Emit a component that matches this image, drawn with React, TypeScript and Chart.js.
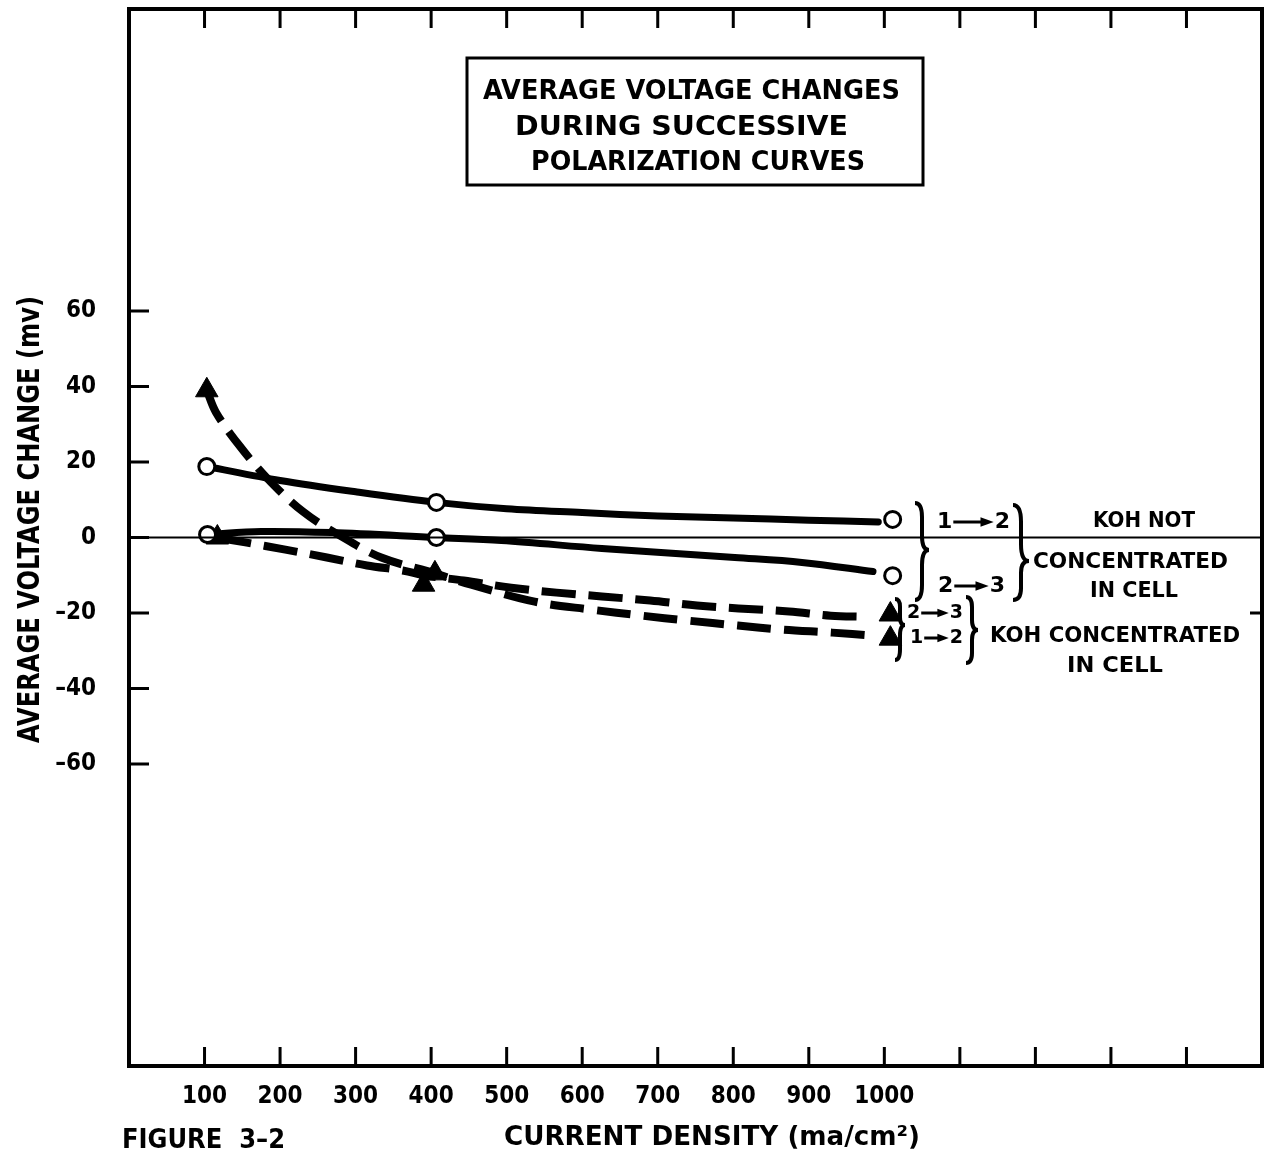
import { useEffect, useRef } from 'react';
import { Chart, registerables } from 'chart.js';

Chart.register(...registerables);

// ---- axis ticks / labels ----
const xTickMarks = [100, 200, 300, 400, 500, 600, 700, 800, 900, 1000, 1100, 1200, 1300, 1400];
const xLabelMin = 100;
const xLabelMax = 1000;
const yTickMarks = [-60, -40, -20, 0, 20, 40, 60];

// ---- KOH NOT concentrated in cell (solid, open circles) ----
// 1 -> 2
const aCurveX = [103, 200, 300, 407, 500, 600, 700, 800, 900, 992];
const aCurveY = [18.8, 15.1, 12.1, 9.3, 7.6, 6.6, 5.7, 5.15, 4.6, 4.1];
const aMarkX = [103, 407, 1011];
const aMarkY = [18.8, 9.3, 4.8];
// 2 -> 3
const bCurveX = [104, 175, 268, 407, 493, 626, 802, 891, 985];
const bCurveY = [0.8, 1.6, 1.3, 0, -0.8, -2.9, -5.3, -6.6, -9.0];
const bMarkX = [104, 407, 1011];
const bMarkY = [0.8, 0, -10.1];

// ---- KOH concentrated in cell (dashed, triangles) ----
// 1 -> 2
const cCurveX = [103, 115, 144, 182, 230, 281, 334, 405, 453, 537, 612, 679, 739, 806, 865, 931, 984];
const cCurveY = [39.0, 33.2, 24.9, 15.9, 6.9, 0.3, -5.3, -9.5, -12.5, -17.0, -19.1, -20.7, -22.0, -23.3, -24.4, -25.2, -26.0];
const cMarkX = [103, 405, 1008];
const cMarkY = [39.0, -9.5, -26.8];
// 2 -> 3
const dCurveX = [117, 154, 207, 262, 315, 364, 390, 443, 506, 566, 626, 690, 752, 807, 874, 929, 974];
const dCurveY = [0.0, -1.3, -3.2, -5.3, -7.4, -8.8, -10.0, -11.4, -13.3, -14.6, -15.6, -16.7, -18.0, -18.8, -19.6, -20.7, -21.0];
const dMarkX = [117, 390, 1008];
const dMarkY = [0.0, -12.5, -20.4];

const TEXT_FONT = "'DejaVu Sans', 'Liberation Sans', sans-serif";
const TICK_FONT = "'DejaVu Sans Condensed', 'DejaVu Sans', sans-serif";

const pts = (xs: number[], ys: number[]) => xs.map((x, i) => ({ x, y: ys[i] }));

function fitText(ctx: CanvasRenderingContext2D, text: string, x: number, y: number, w: number, size: number) {
  ctx.font = `bold ${size}px ${TEXT_FONT}`;
  const m = ctx.measureText(text).width;
  ctx.save();
  ctx.translate(x, y);
  ctx.scale(w / m, 1);
  ctx.textAlign = 'left';
  ctx.textBaseline = 'middle';
  ctx.fillText(text, 0, 0);
  ctx.restore();
}

function brace(ctx: CanvasRenderingContext2D, x: number, y1: number, y2: number, tipY: number, w: number) {
  const xm = x + w * 0.5;
  ctx.beginPath();
  ctx.moveTo(x, y1);
  ctx.quadraticCurveTo(xm, y1, xm, y1 + (tipY - y1) * 0.3);
  ctx.lineTo(xm, tipY - (tipY - y1) * 0.3);
  ctx.quadraticCurveTo(xm, tipY, x + w, tipY);
  ctx.quadraticCurveTo(xm, tipY, xm, tipY + (y2 - tipY) * 0.3);
  ctx.lineTo(xm, y2 - (y2 - tipY) * 0.3);
  ctx.quadraticCurveTo(xm, y2, x, y2);
  ctx.stroke();
}

function arrowLabel(ctx: CanvasRenderingContext2D, a: string, b: string, xl: number, xr: number, y: number, size: number) {
  ctx.font = `bold ${size}px ${TEXT_FONT}`;
  ctx.textBaseline = 'middle';
  ctx.textAlign = 'left';
  ctx.fillText(a, xl, y);
  const wa = ctx.measureText(a).width;
  ctx.textAlign = 'right';
  ctx.fillText(b, xr, y);
  const wb = ctx.measureText(b).width;
  const x1 = xl + wa + 1;
  const x2 = xr - wb - 1;
  const ah = size * 0.6;
  ctx.lineWidth = 3;
  ctx.beginPath();
  ctx.moveTo(x1, y);
  ctx.lineTo(x2 - ah + 2, y);
  ctx.stroke();
  ctx.beginPath();
  ctx.moveTo(x2, y);
  ctx.lineTo(x2 - ah, y - size * 0.22);
  ctx.lineTo(x2 - ah, y + size * 0.22);
  ctx.closePath();
  ctx.fill();
}

const annotations = {
  id: 'annotations',
  afterDraw(chart: any) {
    const { ctx, chartArea: ca, scales } = chart;
    const xs = scales.x;
    const ys = scales.y;
    ctx.save();
    ctx.strokeStyle = '#000';
    ctx.fillStyle = '#000';

    // frame
    ctx.lineWidth = 4;
    ctx.strokeRect(ca.left, ca.top, ca.right - ca.left, ca.bottom - ca.top);

    // zero line
    const y0 = ys.getPixelForValue(0);
    ctx.lineWidth = 2;
    ctx.beginPath();
    ctx.moveTo(ca.left, y0);
    ctx.lineTo(ca.right, y0);
    ctx.stroke();

    // inward tick marks
    ctx.lineWidth = 3;
    ctx.beginPath();
    for (const v of xTickMarks) {
      const px = xs.getPixelForValue(v);
      ctx.moveTo(px, ca.top);
      ctx.lineTo(px, ca.top + 19);
      ctx.moveTo(px, ca.bottom);
      ctx.lineTo(px, ca.bottom - 19);
    }
    for (const v of yTickMarks) {
      const py = ys.getPixelForValue(v);
      ctx.moveTo(ca.left, py);
      ctx.lineTo(ca.left + 20, py);
    }
    const yr = ys.getPixelForValue(-20);
    ctx.moveTo(ca.right - 12, yr);
    ctx.lineTo(ca.right, yr);
    ctx.stroke();

    // title box
    ctx.lineWidth = 3;
    ctx.strokeRect(467, 58, 456, 127);
    fitText(ctx, 'AVERAGE VOLTAGE CHANGES', 483, 92, 417, 26);
    fitText(ctx, 'DURING SUCCESSIVE', 515, 128, 333, 26);
    fitText(ctx, 'POLARIZATION CURVES', 531, 163, 334, 26);

    // axis titles
    ctx.save();
    ctx.translate(31, 743);
    ctx.rotate(-Math.PI / 2);
    fitText(ctx, 'AVERAGE VOLTAGE CHANGE (mv)', 0, 0, 447, 31);
    ctx.restore();
    fitText(ctx, 'CURRENT DENSITY (ma/cm\u00B2)', 504, 1138, 416, 27);
    fitText(ctx, 'FIGURE  3\u20132', 122, 1141, 163, 27);

    // right-side annotations
    ctx.lineWidth = 4;
    brace(ctx, 915, 503, 600, 550, 14);
    brace(ctx, 1013, 505, 600, 561, 16);
    brace(ctx, 895, 599, 660, 625, 10);
    brace(ctx, 966, 597, 663, 630, 12);

    arrowLabel(ctx, '1', '2', 937, 1010, 522, 22);
    arrowLabel(ctx, '2', '3', 938, 1005, 586, 22);
    arrowLabel(ctx, '2', '3', 907, 963, 613, 19);
    arrowLabel(ctx, '1', '2', 910, 963, 638, 19);

    fitText(ctx, 'KOH NOT', 1093, 522, 102, 21);
    fitText(ctx, 'CONCENTRATED', 1033, 563, 195, 21);
    fitText(ctx, 'IN CELL', 1090, 592, 88, 21);
    fitText(ctx, 'KOH CONCENTRATED', 990, 637, 250, 21);
    fitText(ctx, 'IN CELL', 1067, 667, 96, 21);

    ctx.restore();
  },
};

export default function App() {
  const ref = useRef<HTMLCanvasElement | null>(null);

  useEffect(() => {
    if (!ref.current) return;
    const solid = { borderColor: '#000', borderWidth: 7, pointRadius: 0, showLine: true, tension: 0.35, borderCapStyle: 'round' as const, order: 2 };
    const dashed = { borderColor: '#000', borderWidth: 8, pointRadius: 0, showLine: true, tension: 0.35, borderDash: [34, 13], borderCapStyle: 'butt' as const, order: 2 };
    const circles = { pointStyle: 'circle', pointRadius: 8, pointBorderWidth: 3, pointBorderColor: '#000', pointBackgroundColor: '#fff', showLine: false, order: 0 };
    const tris = { pointStyle: 'triangle', pointRadius: 13, pointBorderWidth: 1, pointBorderColor: '#000', pointBackgroundColor: '#000', showLine: false, order: 1 };

    const chart = new Chart(ref.current, {
      type: 'scatter',
      data: {
        datasets: [
          { label: 'KOH not conc. 1→2', data: pts(aCurveX, aCurveY), ...solid },
          { label: 'KOH not conc. 2→3', data: pts(bCurveX, bCurveY), ...solid },
          { label: 'KOH conc. 1→2', data: pts(cCurveX, cCurveY), ...dashed },
          { label: 'KOH conc. 2→3', data: pts(dCurveX, dCurveY), ...dashed },
          { label: 'pts A', data: pts(aMarkX, aMarkY), ...circles },
          { label: 'pts B', data: pts(bMarkX, bMarkY), ...circles },
          { label: 'pts C', data: pts(cMarkX, cMarkY), ...tris },
          { label: 'pts D', data: pts(dMarkX, dMarkY), ...tris },
        ] as any,
      },
      options: {
        animation: false,
        responsive: false,
        layout: { autoPadding: false, padding: { top: 9, right: 5, left: 0, bottom: 0 } },
        plugins: { legend: { display: false }, tooltip: { enabled: false } },
        scales: {
          x: {
            type: 'linear',
            min: 0,
            max: 1500,
            border: { display: false },
            grid: { display: false, drawTicks: false },
            afterFit: (s: any) => { s.height = 93; s.paddingLeft = 0; s.paddingRight = 0; },
            ticks: {
              stepSize: 100,
              autoSkip: false,
              maxRotation: 0,
              padding: 16,
              color: '#000',
              font: { family: TICK_FONT, size: 24, weight: 'bold' },
              callback: (v: any) => (v >= xLabelMin && v <= xLabelMax ? String(v) : ''),
            },
          },
          y: {
            type: 'linear',
            min: -140,
            max: 140,
            border: { display: false },
            grid: { display: false, drawTicks: false },
            afterFit: (s: any) => { s.width = 129; s.paddingTop = 0; s.paddingBottom = 0; },
            ticks: {
              stepSize: 20,
              autoSkip: false,
              padding: 33,
              color: '#000',
              font: { family: TICK_FONT, size: 24, weight: 'bold' },
              callback: (v: any) => (yTickMarks.includes(v) ? (v < 0 ? '\u2013' + -v : String(v)) : ''),
            },
          },
        },
      } as any,
      plugins: [annotations],
    });
    return () => chart.destroy();
  }, []);

  return (
    <div style={{ position: 'absolute', left: 0, top: 0, width: 1267, height: 1159, background: '#fff' }}>
      <canvas ref={ref} width={1267} height={1159} style={{ display: 'block' }} />
    </div>
  );
}
